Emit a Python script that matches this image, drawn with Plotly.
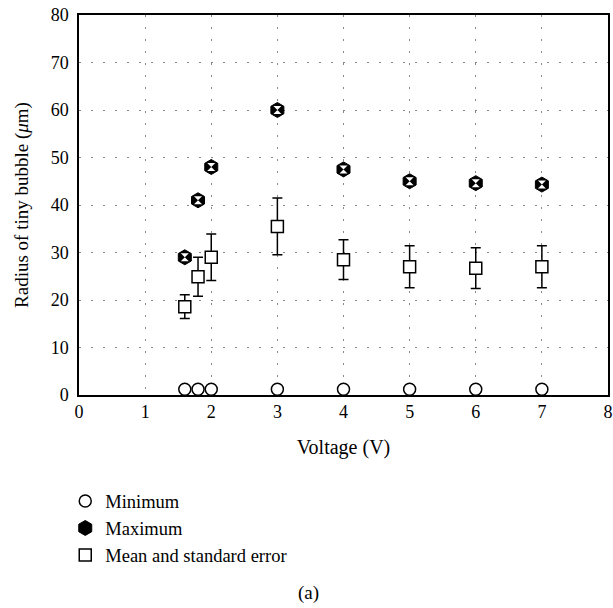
import plotly.graph_objects as go

voltage = [1.6, 1.8, 2, 3, 4, 5, 6, 7]
minimum = [1.2, 1.2, 1.2, 1.2, 1.2, 1.2, 1.2, 1.2]
maximum = [29.0, 41.0, 48.0, 60.0, 47.5, 45.0, 44.6, 44.3]
mean = [18.6, 24.9, 29.0, 35.5, 28.5, 27.0, 26.7, 27.0]
std_err = [2.5, 4.1, 4.9, 5.95, 4.2, 4.4, 4.3, 4.4]

x_ticks = [0, 1, 2, 3, 4, 5, 6, 7, 8]
y_ticks = [0, 10, 20, 30, 40, 50, 60, 70, 80]

FONT = "Liberation Serif"

fig = go.Figure()

fig.add_trace(go.Scatter(
    x=voltage, y=minimum, mode="markers", name="Minimum",
    marker=dict(symbol="circle", size=12, color="white",
                line=dict(color="black", width=1.5)),
))
fig.add_trace(go.Scatter(
    x=voltage, y=maximum, mode="markers", name="Maximum",
    marker=dict(symbol="hexagon", size=15, color="black",
                line=dict(color="black", width=1)),
))
fig.add_trace(go.Scatter(
    x=voltage, y=maximum, mode="markers", showlegend=False, hoverinfo="skip",
    marker=dict(symbol="hourglass", size=8, color="white",
                line=dict(color="white", width=0)),
))
fig.add_trace(go.Scatter(
    x=voltage, y=mean, mode="markers", name="Mean and standard error",
    error_y=dict(type="data", array=std_err, visible=True,
                 color="black", thickness=1.5, width=5),
    marker=dict(symbol="square", size=12, color="white",
                line=dict(color="black", width=1.5)),
))

fig.update_layout(
    width=613, height=608,
    margin=dict(l=79, r=5, t=15, b=213, autoexpand=False),
    paper_bgcolor="white", plot_bgcolor="white",
    font=dict(family=FONT, size=18, color="black"),
    showlegend=True,
    legend=dict(x=-0.026, xanchor="left", y=-0.23, yanchor="top",
                font=dict(family=FONT, size=18.5), bgcolor="rgba(0,0,0,0)",
                tracegroupgap=0),
    annotations=[dict(text="(a)", x=0.433, y=-0.554, xref="paper", yref="paper",
                      showarrow=False, font=dict(family=FONT, size=19))],
)

fig.update_xaxes(
    range=[0, 8], tickvals=x_ticks, ticktext=[str(v) for v in x_ticks],
    showline=True, linecolor="black", linewidth=1.5, mirror=True,
    showgrid=True, gridcolor="#888888", gridwidth=1, griddash="2px,10px",
    zeroline=False, ticks="", ticklabelstandoff=0, ticklabeloverflow="allow",
    title=dict(text="Voltage (V)", font=dict(family=FONT, size=20), standoff=19),
    tickfont=dict(family=FONT, size=18),
)
fig.update_yaxes(
    range=[0, 80], tickvals=y_ticks, ticktext=[str(v) for v in y_ticks],
    showline=True, linecolor="black", linewidth=1.5, mirror=True,
    showgrid=True, gridcolor="#888888", gridwidth=1, griddash="2px,10px",
    zeroline=False, ticks="", ticklabelstandoff=5, ticklabeloverflow="allow",
    title=dict(text="Radius of tiny bubble (<i>μ</i>m)", font=dict(family=FONT, size=19), standoff=17),
    tickfont=dict(family=FONT, size=18),
)

fig.write_html(
    "out.html",
    config={"displayModeBar": False},
    post_script="document.body.style.margin='0';document.body.style.overflow='hidden';",
)
